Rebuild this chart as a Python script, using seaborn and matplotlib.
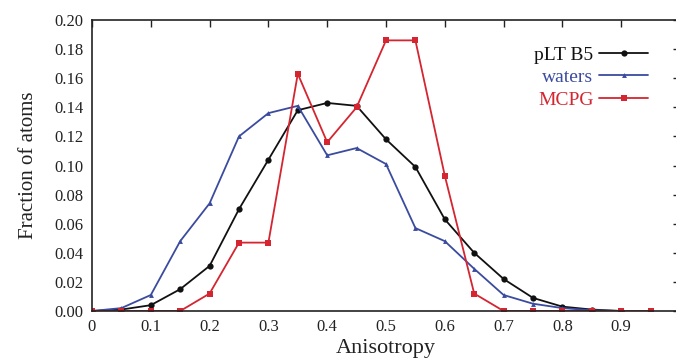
import numpy as np
import pandas as pd
import matplotlib
matplotlib.use("Agg")
import matplotlib.pyplot as plt
import seaborn as sns

# ---- data ----
x_full = [0.0, 0.05, 0.1, 0.15, 0.2, 0.25, 0.3, 0.35, 0.4, 0.45, 0.5,
          0.55, 0.6, 0.65, 0.7, 0.75, 0.8, 0.85, 0.9, 0.95]

plt_b5 = [0.0, 0.001, 0.004, 0.015, 0.031, 0.070, 0.104, 0.138, 0.143, 0.141,
          0.118, 0.099, 0.063, 0.040, 0.022, 0.009, 0.003, 0.001, 0.0]
waters = [0.0, 0.002, 0.011, 0.048, 0.074, 0.120, 0.136, 0.141, 0.107, 0.112,
          0.101, 0.057, 0.048, 0.029, 0.011, 0.005, 0.002, 0.0005, 0.0]
mcpg = [0.0, 0.0, 0.0, 0.0, 0.012, 0.047, 0.047, 0.163, 0.116, 0.140,
        0.186, 0.186, 0.093, 0.012, 0.0, 0.0, 0.0, 0.0, 0.0, 0.0]

series_names = ["pLT B5", "waters", "MCPG"]
series_values = [plt_b5, waters, mcpg]
colors = {"pLT B5": "#111111", "waters": "#3b4b9e", "MCPG": "#d42530"}
markers = {"pLT B5": "o", "waters": "^", "MCPG": "s"}
msizes = {"pLT B5": 4.5, "waters": 3.5, "MCPG": 4.2}

x_ticks = [0, 0.1, 0.2, 0.3, 0.4, 0.5, 0.6, 0.7, 0.8, 0.9, 1.0]
x_ticklabels = ["0", "0.1", "0.2", "0.3", "0.4", "0.5", "0.6", "0.7", "0.8", "0.9", ""]
y_ticks = [0.00, 0.02, 0.04, 0.06, 0.08, 0.10, 0.12, 0.14, 0.16, 0.18, 0.20]

rows = []
for name, vals in zip(series_names, series_values):
    for xv, yv in zip(x_full, vals):
        rows.append({"Anisotropy": xv, "Fraction": yv, "series": name})
df = pd.DataFrame(rows)

sns.set_theme(style="white")
plt.rcParams["font.family"] = ["Liberation Serif", "DejaVu Serif"]

fig = plt.figure(figsize=(6.76, 3.6), dpi=100)
ax = fig.add_axes([92 / 676, 49 / 360, 588 / 676, 291 / 360])

for name in series_names:
    sub = df[df["series"] == name]
    sns.lineplot(data=sub, x="Anisotropy", y="Fraction", ax=ax,
                 color=colors[name], marker=markers[name],
                 markersize=msizes[name], markeredgewidth=0,
                 linewidth=1.3, label=name, sort=False)

ax.set_xlim(0, 1.0)
ax.set_ylim(0, 0.20)
ax.set_xticks(x_ticks)
ax.set_xticklabels(x_ticklabels)
ax.set_yticks(y_ticks)
ax.set_yticklabels([f"{v:.2f}" for v in y_ticks])
ax.tick_params(direction="in", length=5, width=1, top=True, right=True,
               labelsize=12, colors="#222222", pad=6)
for s in ax.spines.values():
    s.set_color("#222222")
    s.set_linewidth(1.2)

ax.set_xlabel("Anisotropy", fontsize=16, color="#222222", labelpad=3)
ax.set_ylabel("Fraction of atoms", fontsize=15, color="#222222", labelpad=12)

handles, labels = ax.get_legend_handles_labels()
leg = ax.legend(handles, labels, loc="upper right", markerfirst=False,
                frameon=False, fontsize=14, labelcolor="linecolor",
                handlelength=2.5, handletextpad=0.3, labelspacing=0.25,
                borderpad=0, borderaxespad=0,
                bbox_to_anchor=(648 / 676, 1 - 46 / 360),
                bbox_transform=fig.transFigure)

fig.savefig("out.png", dpi=100)
